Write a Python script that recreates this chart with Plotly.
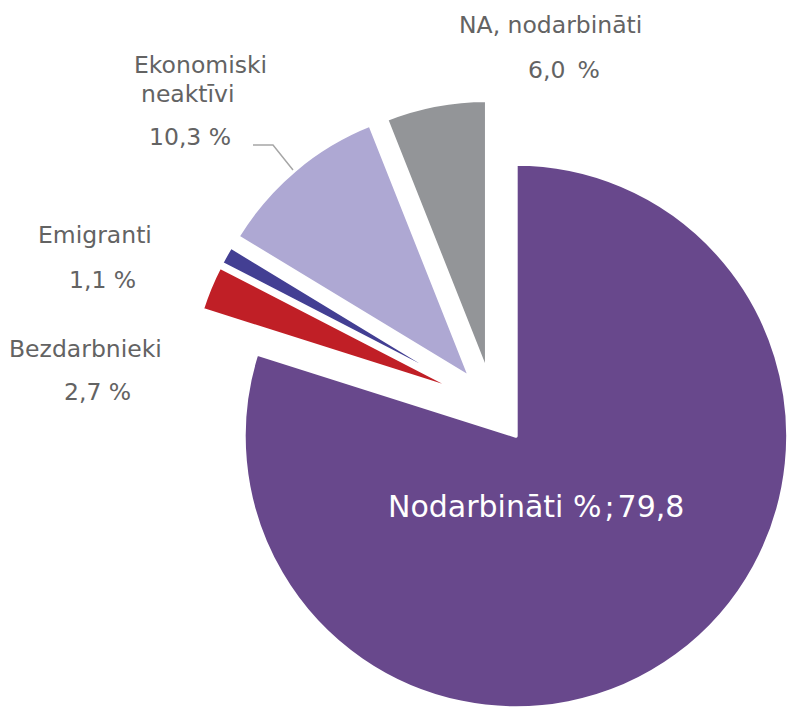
import math
import plotly.graph_objects as go

# ---- data ----
categories = ["Nodarbināti", "Bezdarbnieki", "Emigranti", "Ekonomiski neaktīvi", "NA, nodarbināti"]
values = [79.8, 2.7, 1.1, 10.3, 6.0]
value_text = ["79,8", "2,7 %", "1,1 %", "10,3 %", "6,0\u2009 %"]

# ---- style ----
colors = ["#68488C", "#C01F26", "#433F93", "#AEA8D3", "#939598"]
W, H = 788, 708
R = 272
CENTER = (492.9, 404.6)
EXPLODE = [39, 34, 34, 35, 33]
FONT = "DejaVu Sans"
TXT = "#636363"
FS = 23.5

total = sum(values)
fig = go.Figure()
cum = 0.0
for i, v in enumerate(values):
    mid = (cum + v / 2) / total * 2 * math.pi
    cum += v
    cx = CENTER[0] + EXPLODE[i] * math.sin(mid)
    cy = CENTER[1] - EXPLODE[i] * math.cos(mid)
    x0 = max(0.0, (cx - R) / W)
    x1 = min(1.0, (cx + R) / W)
    y0 = max(0.0, (H - cy - R) / H)
    y1 = min(1.0, (H - cy + R) / H)
    fig.add_trace(go.Pie(
        values=values, labels=categories, sort=False, direction="clockwise", rotation=0,
        marker=dict(
            colors=[c if j == i else "rgba(0,0,0,0)" for j, c in enumerate(colors)],
            line=dict(color=["white" if j == i else "rgba(0,0,0,0)" for j in range(len(values))], width=3.5),
        ),
        textinfo="none", hoverinfo="label+value",
        domain=dict(x=[x0, x1], y=[y0, y1]), showlegend=False,
    ))


def px(x):
    return x / W


def py(y):
    return 1 - y / H


def add_text(text, x, baseline, size=FS, color=TXT):
    fig.add_annotation(text=text, x=px(x), y=py(baseline - 0.346 * size), xref="paper", yref="paper",
                       xanchor="center", yanchor="middle", showarrow=False,
                       font=dict(family=FONT, size=size, color=color))


# outside labels (centre x, baseline y in px)
eko_lines = categories[3].split(" ")
add_text(categories[4], 550.5, 33)
add_text(value_text[4], 564, 78)
add_text(eko_lines[0], 200, 73)
add_text(eko_lines[1], 188, 102)
add_text(value_text[3], 190, 145)
add_text(categories[2], 94.5, 243)
add_text(value_text[2], 102, 288)
add_text(categories[1], 85.5, 357)
add_text(value_text[1], 97, 400)
# inside label
add_text(f"{categories[0]} %\u200a;\u200a{value_text[0]}", 536, 517, size=30, color="white")

# leader line for Ekonomiski neaktīvi
fig.add_shape(type="path", xref="paper", yref="paper",
              path=f"M {px(253)} {py(145)} L {px(273)} {py(145)} L {px(293)} {py(170)}",
              line=dict(color="#A6A6A6", width=1.5))

fig.update_layout(width=W, height=H, margin=dict(l=0, r=0, t=0, b=0),
                  paper_bgcolor="white", plot_bgcolor="white")
fig.write_html("out.html", post_script="document.body.style.margin='0';",
               config={"displayModeBar": False})
